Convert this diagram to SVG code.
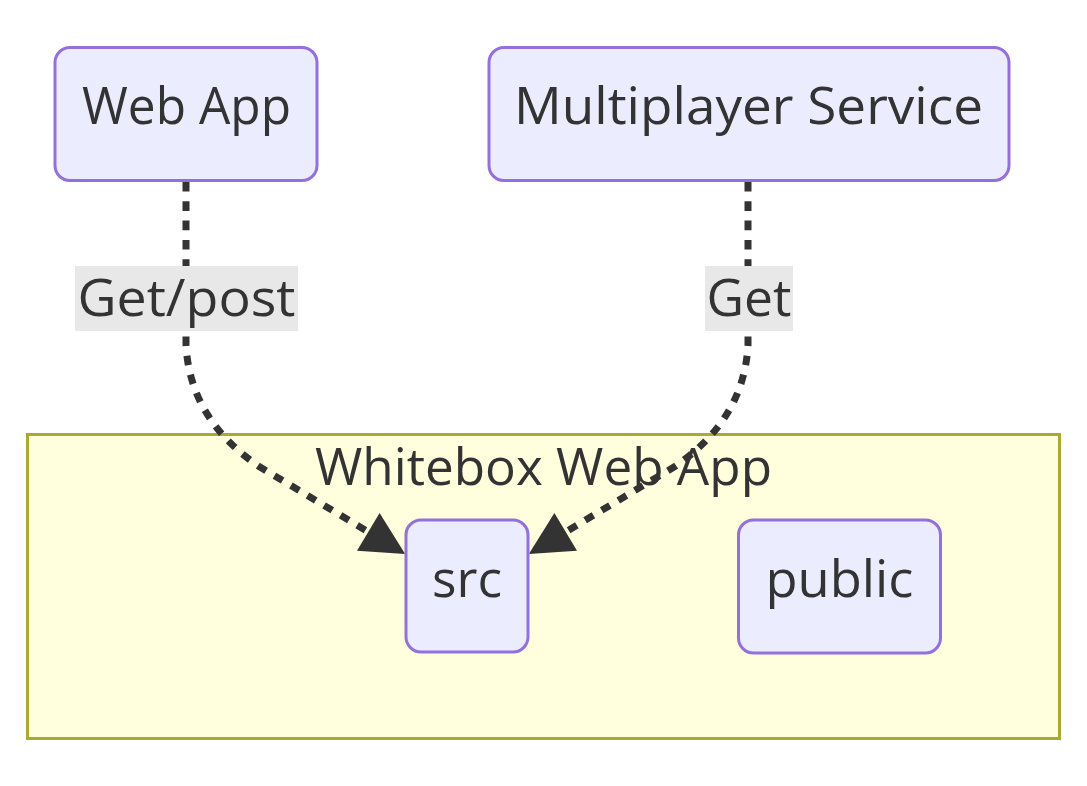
<svg xmlns="http://www.w3.org/2000/svg" width="1087" height="786" viewBox="0 0 1087 786">
<style>
.node rect{fill:#ECECFF;stroke:#9370DB;stroke-width:3;}
.cluster rect{fill:#FFFFDE;stroke:#AAAA33;stroke-width:3;}
text{font-family:"Open Sans","DejaVu Sans",sans-serif;font-size:52px;fill:#333333;text-anchor:middle;}
.edge{fill:none;stroke:#333333;stroke-width:7;stroke-dasharray:9.6 9.7;}
.lbl rect{fill:#E8E8E8;}
</style>
<defs>
<marker id="arrow" markerUnits="userSpaceOnUse" markerWidth="50" markerHeight="50" refX="0" refY="0" viewBox="-5 -25 50 50" orient="auto" overflow="visible">
<path d="M-2,-22 L41,0 L-2,22 Z" fill="#333333"/>
</marker>
</defs>
<rect width="1087" height="786" fill="#FFFFFF"/>
<g id="cluster-whitebox" class="cluster">
<rect x="27.5" y="434.5" width="1032" height="304"/>
<text x="543.5" y="485" textLength="457" lengthAdjust="spacingAndGlyphs">Whitebox Web App</text>
</g>
<g id="connectors">
<path class="edge" d="M186,182 L186,345 Q190,420 260,467 L370,533" marker-end="url(#arrow)"/>
<path class="edge" d="M748,182 L748,345 Q744,420 674,467 L564,533" marker-end="url(#arrow)"/>
<g class="lbl" id="label-getpost">
<rect x="75" y="266" width="223" height="65"/>
<text x="186.5" y="316" textLength="218" lengthAdjust="spacingAndGlyphs">Get/post</text>
</g>
<g class="lbl" id="label-get">
<rect x="705" y="266" width="88" height="65"/>
<text x="749" y="316" textLength="85" lengthAdjust="spacingAndGlyphs">Get</text>
</g>
</g>
<g id="node-webapp" class="node">
<rect x="55" y="47.5" width="262" height="133" rx="15"/>
<text x="186.5" y="124" textLength="209" lengthAdjust="spacingAndGlyphs">Web App</text>
</g>
<g id="node-multiplayer" class="node">
<rect x="489" y="47.5" width="520" height="133" rx="15"/>
<text x="748.5" y="124" textLength="469" lengthAdjust="spacingAndGlyphs">Multiplayer Service</text>
</g>
<g id="node-src" class="node">
<rect x="406" y="520" width="122" height="132" rx="15"/>
<text x="467" y="597" textLength="70" lengthAdjust="spacingAndGlyphs">src</text>
</g>
<g id="node-public" class="node">
<rect x="738.5" y="520" width="202" height="133" rx="15"/>
<text x="839.5" y="597" textLength="148" lengthAdjust="spacingAndGlyphs">public</text>
</g>
</svg>
